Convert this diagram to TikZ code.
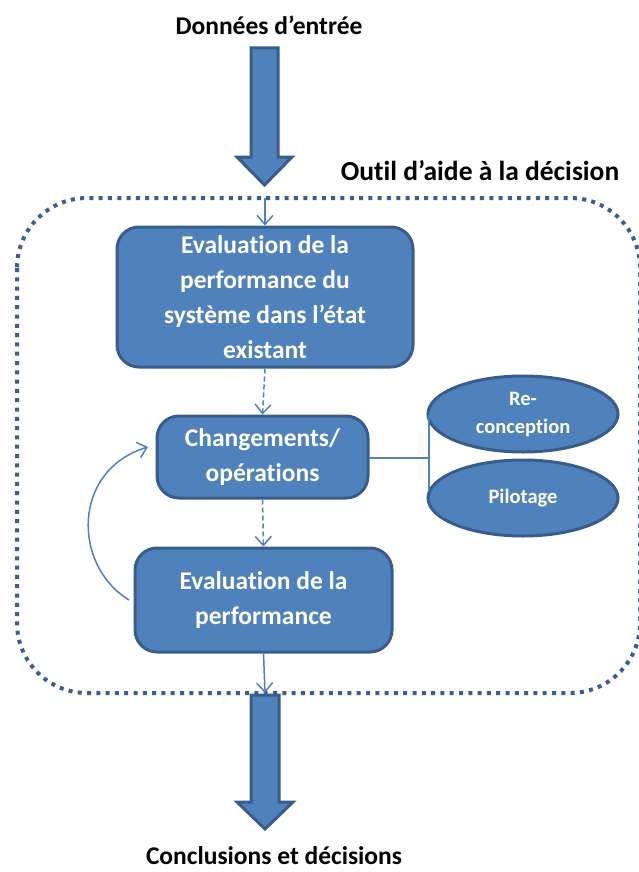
\documentclass[tikz,border=0pt]{standalone}
\usepackage{fontspec}
\setmainfont{Carlito}[Ligatures={NoCommon}]
\usetikzlibrary{shapes.geometric,arrows.meta}
\definecolor{ofblue}{HTML}{4F81BD}
\definecolor{ofdark}{HTML}{385D8A}
\definecolor{ofdot}{HTML}{3A5F8F}
\begin{document}
\begin{tikzpicture}[x=1pt,y=-1pt,
  boxstyle/.style={draw=ofdark,line width=3pt,fill=ofblue,rounded corners=22pt,text=white,align=center,font=\bfseries\fontsize{25.5}{35}\selectfont,inner sep=0pt},
  ellstyle/.style={ellipse,draw=ofdark,line width=3pt,fill=ofblue,text=white,align=center,font=\bfseries\fontsize{20.5}{28}\selectfont,inner sep=0pt,minimum width=190pt,minimum height=76pt},
  bigarrow/.style={draw=ofdark,line width=3pt,fill=ofblue,line join=miter},
  thinline/.style={draw=ofblue,line width=1.5pt},
  thinarrow/.style={thinline,-{Straight Barb[length=9pt,width=16pt,line width=1.5pt]}},
  dasharrow/.style={thinarrow,dash pattern=on 5pt off 3pt},
  title/.style={font=\bfseries\fontsize{25.5}{30}\selectfont,text=black,inner sep=0pt,anchor=base}]
\useasboundingbox (0,0) rectangle (638,872);
% titles
\node[title] (tin) at (269,35) {Données d’entrée};
\node[title,font=\bfseries\fontsize{27.5}{32}\selectfont] (tout) at (480,180) {Outil d’aide à la décision};
\node[title] (tconc) at (274,864) {Conclusions et décisions};
% dotted frame
\draw[ofdot,line width=4pt,dash pattern=on 4pt off 5.3pt,rounded corners=70pt] (17,198) rectangle (640,693);
\coordinate (ftop) at (265,198);
\coordinate (fbot) at (265,693);
% big arrows
\draw[bigarrow] (251,48) -- (278,48) -- (278,157) -- (292,157) -- (264.5,185) -- (237,157) -- (251,157) -- cycle;
\draw[bigarrow] (251,695) -- (279,695) -- (279,802) -- (293,802) -- (265,829) -- (237,802) -- (251,802) -- cycle;
% boxes
\node[boxstyle,minimum width=296pt,minimum height=140pt] (b1) at (265,297)
  {Evaluation de la\\performance du\\système dans l’état\\existant};
\node[boxstyle,minimum width=211pt,minimum height=82pt] (b2) at (262.5,457)
  {Changements/\\opérations};
\node[boxstyle,minimum width=257pt,minimum height=104pt] (b3) at (263.5,600)
  {Evaluation de la\\performance};
% ellipses
\node[ellstyle] (e1) at (523,414) {Re-\\conception};
\node[ellstyle] (e2) at (523,498) {Pilotage};
% connectors
\draw[thinarrow] (ftop) -- (b1.north);
\draw[dasharrow] (b1.south) -- (b2.north);
\draw[dasharrow] (b2.south) -- (b3.north);
\draw[thinarrow] (b3.south) -- (fbot);
\coordinate (vj) at (429,458);
\coordinate (vt) at (429,415);
\coordinate (vb) at (429,490);
\draw[thinline] (b2.east |- vj) -- (vj);
\draw[thinline] (vt) -- (vb);
\coordinate (cs) at (129,600);
\coordinate (ce) at (148,447);
\draw[thinarrow] (cs) .. controls (72,565) and (72,470) .. (ce);
\end{tikzpicture}
\end{document}
